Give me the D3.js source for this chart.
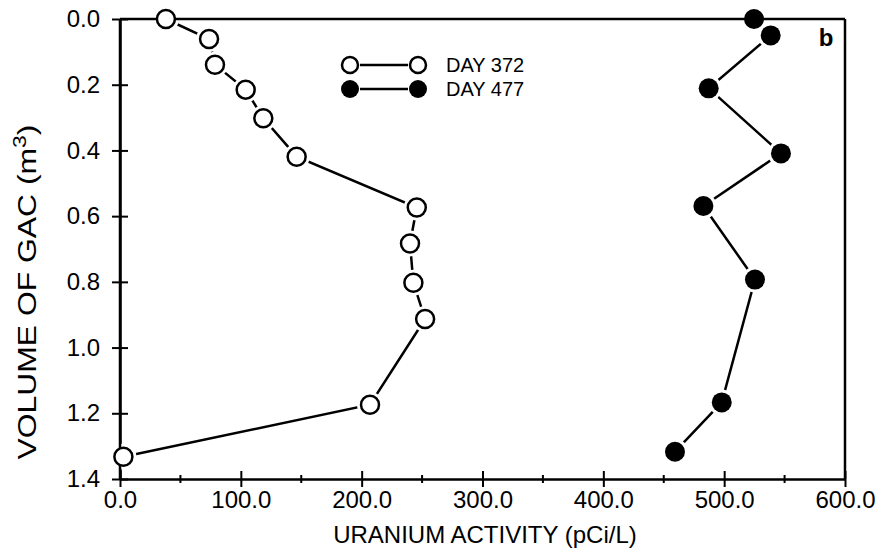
<!DOCTYPE html>
<html>
<head>
<meta charset="utf-8">
<script src="https://cdn.jsdelivr.net/npm/d3@7"></script>
<style>
  html, body { margin: 0; padding: 0; background: #fff; }
  svg { display: block; }
  text { font-family: "Liberation Sans", Arial, sans-serif; fill: #000; }
</style>
</head>
<body>
<svg id="chart" width="886" height="548"></svg>
<script>
// ---- data ----
const day372Volume = [0.0, 0.061, 0.139, 0.215, 0.302, 0.419, 0.574, 0.683, 0.803, 0.913, 1.174, 1.332];
const day372Uranium = [38, 73.7, 78.6, 104, 118.6, 146.2, 245.6, 240, 242.8, 252.5, 206.9, 2.8];
const day477Volume = [0.0, 0.05, 0.211, 0.409, 0.569, 0.793, 1.167, 1.317];
const day477Uranium = [524.7, 538.5, 487.2, 547, 482.8, 525.5, 498, 459.3];
const xTicks = [0, 100, 200, 300, 400, 500, 600];
const xMinorTicks = [50, 150, 250, 350, 450, 550];
const yTicks = [0.0, 0.2, 0.4, 0.6, 0.8, 1.0, 1.2, 1.4];
const legendLabels = ["DAY 372", "DAY 477"];
const panelLabel = "b";
const xTitle = "URANIUM ACTIVITY (pCi/L)";
const yTitle = "VOLUME OF GAC (m";

// ---- drawing ----
const svg = d3.select("#chart");
const x = d3.scaleLinear().domain([0, 600]).range([120, 845]);
const y = d3.scaleLinear().domain([0, 1.4]).range([19, 479]);
const fmt = d3.format(".1f");
const FS = 24;

// x axis
const xAxis = svg.append("g").attr("transform", `translate(0,${y(1.4)})`)
  .call(d3.axisBottom(x).tickValues(xTicks).tickFormat(fmt).tickSizeInner(8).tickSizeOuter(0).tickPadding(4));
xAxis.select(".domain").attr("stroke-width", 2.5);
xAxis.selectAll(".tick line").attr("y1", -8).attr("stroke-width", 2);
xAxis.selectAll("text").attr("font-size", FS).attr("font-family", "Liberation Sans, Arial, sans-serif");
const xMinor = svg.append("g").attr("transform", `translate(0,${y(1.4)})`);
xMinor.selectAll("line").data(xMinorTicks).join("line")
  .attr("x1", d => x(d)).attr("x2", d => x(d)).attr("y1", -4).attr("y2", 4)
  .attr("stroke", "#000").attr("stroke-width", 2);

// y axis
const yAxis = svg.append("g").attr("transform", `translate(${x(0)},0)`)
  .call(d3.axisLeft(y).tickValues(yTicks).tickFormat(fmt).tickSizeInner(8).tickSizeOuter(0).tickPadding(12));
yAxis.select(".domain").attr("stroke-width", 2.5);
yAxis.selectAll(".tick line").attr("x1", 8).attr("stroke-width", 2);
yAxis.selectAll("text").attr("font-size", FS).attr("font-family", "Liberation Sans, Arial, sans-serif");

// axis titles
svg.append("text").attr("x", 485).attr("y", 543).attr("text-anchor", "middle")
  .attr("font-size", FS).text(xTitle);
const yt = svg.append("text").attr("transform", `translate(36,292) rotate(-90)`)
  .attr("text-anchor", "middle").attr("font-size", 25)
  .attr("textLength", 335).attr("lengthAdjust", "spacingAndGlyphs");
yt.append("tspan").text(yTitle);
yt.append("tspan").attr("dy", -10).attr("font-size", 18).text("3");
yt.append("tspan").attr("dy", 10).text(")");

// series
function series(xs, ys) {
  const pts = xs.map((v, i) => ({ u: v, vol: ys[i] }));
  const line = d3.line().x(d => x(d.u)).y(d => y(d.vol));
  const g = svg.append("g");
  g.append("path").datum(pts).attr("d", line).attr("fill", "none")
    .attr("stroke", "#000").attr("stroke-width", 2.5);
  g.selectAll("circle.halo").data(pts).join("circle").attr("class", "halo")
    .attr("cx", d => x(d.u)).attr("cy", d => y(d.vol)).attr("r", 13).attr("fill", "#fff");
}
series(day372Uranium, day372Volume);
series(day477Uranium, day477Volume);

// frame (top, left and right borders) drawn over the halos
svg.append("line").attr("x1", x(0)).attr("x2", x(600)).attr("y1", y(0)).attr("y2", y(0))
  .attr("stroke", "#000").attr("stroke-width", 2.5);
svg.append("line").attr("x1", x(0)).attr("x2", x(0)).attr("y1", y(0)).attr("y2", y(1.4))
  .attr("stroke", "#000").attr("stroke-width", 2.5);
svg.append("line").attr("x1", x(600)).attr("x2", x(600)).attr("y1", y(0)).attr("y2", y(1.4))
  .attr("stroke", "#000").attr("stroke-width", 2.5);

// markers on top
[[day372Uranium, day372Volume, false], [day477Uranium, day477Volume, true]].forEach(([xs, ys, filled]) => {
  svg.append("g").selectAll("circle").data(xs.map((v, i) => ({ u: v, vol: ys[i] }))).join("circle")
    .attr("cx", d => x(d.u)).attr("cy", d => y(d.vol)).attr("r", filled ? 10 : 9)
    .attr("fill", filled ? "#000" : "#fff").attr("stroke", "#000").attr("stroke-width", filled ? 0 : 2.5);
});

// legend
const leg = svg.append("g");
legendLabels.forEach((lab, i) => {
  const ly = 65 + i * 24;
  const filled = i === 1;
  leg.append("line").attr("x1", 360).attr("x2", 408).attr("y1", ly).attr("y2", ly)
    .attr("stroke", "#000").attr("stroke-width", 2.5);
  [350, 418].forEach(cx => {
    leg.append("circle").attr("cx", cx).attr("cy", ly).attr("r", filled ? 9 : 8)
      .attr("fill", filled ? "#000" : "#fff").attr("stroke", "#000").attr("stroke-width", filled ? 0 : 2.5);
  });
  leg.append("text").attr("x", 446).attr("y", ly + 7).attr("font-size", 20).text(lab);
});

// panel label
svg.append("text").attr("x", 826).attr("y", 46).attr("text-anchor", "middle")
  .attr("font-size", 24).attr("font-weight", "bold").text(panelLabel);
</script>
</body>
</html>
